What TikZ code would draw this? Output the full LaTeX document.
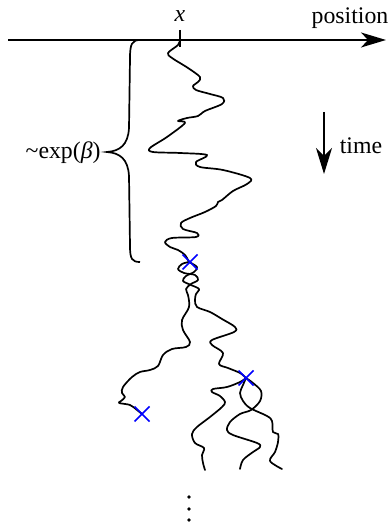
\documentclass[tikz,border=0pt]{standalone}
\usepackage{fontspec}
\setmainfont{Liberation Serif}
\usetikzlibrary{arrows.meta}
\begin{document}
\begin{tikzpicture}[x=0.5pt,y=-0.5pt,
  walk/.style={line width=0.85pt, line cap=round, line join=round},
  axisline/.style={line width=0.85pt, -{Stealth[length=12.5pt,width=7.5pt,inset=3.5pt]}},
  killmark/.style={blue, line width=0.75pt},
  lbl/.style={font=\fontsize{11.9}{14}\selectfont, inner sep=0pt}]
\useasboundingbox (0,0) rectangle (390,522);
% axis
\coordinate (axL) at (8,40);
\coordinate (axR) at (386,40);
\draw[axisline] (axL) -- (axR);
\coordinate (tickT) at (180,30);
\coordinate (tickB) at (180,47);
\draw[line width=0.85pt] (tickT) -- (tickB);
\node[lbl] (xl) at (180,16) {\textit{x}};
\node[lbl] (pos) at (350,18) {position};
% time arrow
\coordinate (tT) at (324,112);
\coordinate (tB) at (324,174);
\draw[line width=0.85pt, -{Stealth[length=13pt,width=8pt,inset=4pt]}] (tT) -- (tB);
\node[lbl] (time) at (361,146) {time};
% brace
\draw[line width=0.85pt] (140,40) .. controls (132,40) and (130,44) .. (130,58)
  -- (129,128) .. controls (128,145) and (120,151) .. (107,152)
  .. controls (120,153) and (128,159) .. (129,176)
  -- (130,246) .. controls (130,259) and (132,262) .. (140,262);
\node[lbl, anchor=east] (expb) at (101,153) {\textasciitilde exp(\textit{β})};
% trunk
\draw[walk] plot[smooth, tension=0.55] coordinates {
 (180,40) (178,45) (168,53) (172,58) (188,68) (200,77) (198,82) (193,86) (196,90)
 (210,94) (223,98) (222,104) (205,111) (198,116) (187,118) (178,121) (185,123)
 (167,137) (150,148) (153,152) (180,153) (207,155) (196,162) (200,167) (223,170)
 (250,178) (247,184) (233,191) (222,200) (218,202) (216,206) (205,212) (190,218)
 (181,223) (183,229) (197,233) (196,237) (172,238) (165,242) (170,247) (178,250)
 (185,255) (189,262)};
% strand A
\draw[walk] plot[smooth, tension=0.55] coordinates {
 (189,262) (182,264) (178,269) (184,273) (195,275) (198,280) (191,284) (186,289)
 (188,295) (189,307) (182,320) (183,330) (190,342) (186,347) (172,349) (163,355)
 (158,366) (150,370) (140,372) (132,377) (123,387) (122,393) (125,397) (121,401)
 (119,403) (130,405) (137,410) (142,414)};
% strand B
\draw[walk] plot[smooth, tension=0.55] coordinates {
 (189,262) (197,267) (194,272) (186,276) (183,281) (191,285) (199,289) (196,294)
 (195,300) (197,307) (210,312) (222,319) (235,327) (234,332) (212,340) (212,345)
 (223,353) (219,364) (228,368) (240,373) (246,378)};
% branches from cross 2
\draw[walk] plot[smooth, tension=0.55] coordinates {
 (246,378) (240,382) (227,387) (213,389) (212,392) (220,396) (225,402) (222,407)
 (210,417) (197,427) (192,434) (195,443) (204,448) (202,455) (203,463) (205,470)};
\draw[walk] plot[smooth, tension=0.55] coordinates {
 (246,378) (253,383) (261,391) (260,401) (251,410) (240,414) (230,422) (227,430)
 (233,435) (257,443) (260,447) (253,452) (243,460) (240,469)};
\draw[walk] plot[smooth, tension=0.55] coordinates {
 (246,378) (243,385) (240,393) (243,401) (250,408) (267,416) (272,421) (273,432)
 (278,434) (278,442) (275,452) (270,461) (282,469)};
% crosses
\coordinate (c1) at (190,262);
\coordinate (c2) at (246,378);
\coordinate (c3) at (142,414);
\foreach \n in {c1,c2,c3} {
  \draw[killmark] ([shift={(-7.5,-7.5)}]\n) -- ([shift={(7.5,7.5)}]\n);
  \draw[killmark] ([shift={(-7.5,7.5)}]\n) -- ([shift={(7.5,-7.5)}]\n);
}
% vertical dots
\foreach \y in {497,509,520} \fill (189,\y) circle (0.9pt);
\end{tikzpicture}
\end{document}
